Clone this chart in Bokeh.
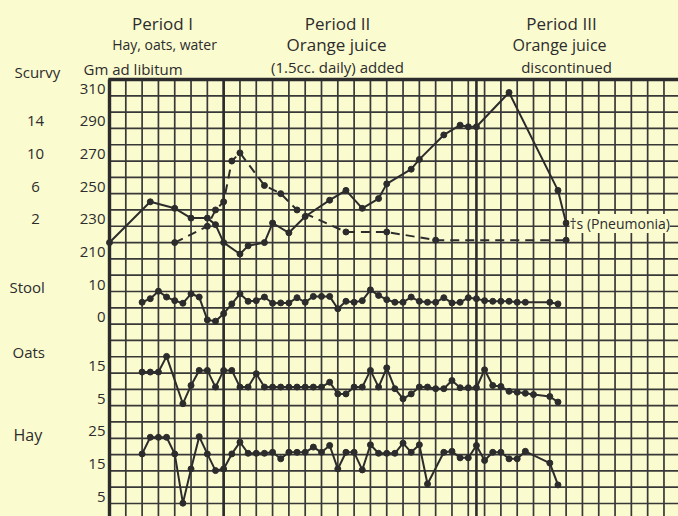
import numpy as np
from bokeh.plotting import figure
from bokeh.models import Range1d, Label, Grid
from bokeh.embed import file_html
from bokeh.resources import INLINE

# ---------------- data (day of experiment; one grid column = 2 days) ----------------
weight_day = [0, 5, 8, 10, 12, 13, 14, 16, 17, 19, 20, 22, 24, 27, 29, 31, 33, 34,
              37, 38, 41, 43, 44, 45, 49, 55, 56]
weight_gm = [220, 245, 241, 235, 235, 231, 220, 213, 218, 220, 232, 226, 236, 246, 252,
             241, 247, 256, 265, 271, 286, 292, 291, 291, 312, 252, 232]

scurvy_day = [8, 12, 13, 14, 15, 16, 19, 21, 23, 29, 34, 40, 56]
scurvy_score = [0, 2, 4, 5, 10, 11, 7, 6, 4, 1.3, 1.3, 0.3, 0.3]

stool_day = [4, 5, 6, 7, 8, 9, 10, 11, 12, 13, 14, 15, 16, 17, 18, 19, 20, 21, 22, 23,
             24, 25, 26, 27, 28, 29, 30, 31, 32, 33, 34, 35, 36, 37, 38, 39, 40, 41, 42,
             43, 44, 45, 46, 47, 48, 49, 50, 51, 54, 55]
stool_val = [6.7, 7.8, 10.1, 8.3, 7.2, 6.4, 9.3, 8.3, 1.3, 0.9, 3.2, 6.2, 9.3, 7.0, 7.2,
             8.3, 6.4, 6.5, 6.5, 8.1, 6.7, 8.5, 8.5, 8.5, 4.7, 7.0, 6.7, 7.2, 10.5, 8.8,
             7.5, 6.7, 6.7, 8.3, 7.0, 6.7, 6.7, 8.1, 6.5, 6.7, 8.1, 7.8, 7.2, 7.0, 7.0,
             7.0, 6.7, 6.7, 6.7, 6.2]

oats_day = [4, 5, 6, 7, 9, 10, 11, 12, 13, 14, 15, 16, 17, 18, 19, 20, 21, 22, 23, 24,
            25, 26, 27, 28, 29, 30, 31, 32, 33, 34, 35, 36, 37, 38, 39, 40, 41, 42, 43,
            44, 45, 46, 47, 48, 49, 50, 51, 52, 54, 55]
oats_val = [15.3, 15.3, 15.3, 20.1, 5.6, 11.2, 15.8, 15.8, 10.7, 15.8, 15.8, 10.7, 10.7,
            14.8, 10.7, 10.7, 10.7, 10.7, 10.7, 10.7, 10.7, 10.7, 12.2, 8.6, 8.6, 10.7,
            10.7, 15.8, 10.7, 16.6, 10.2, 7.1, 8.6, 10.7, 10.7, 10.2, 10.2, 12.7, 10.5,
            10.5, 10.5, 16.0, 11.2, 10.9, 9.4, 9.1, 8.8, 8.4, 7.8, 6.1]

hay_day = [4, 5, 6, 7, 8, 9, 10, 11, 12, 13, 14, 15, 16, 17, 18, 19, 20, 21, 22, 23, 24,
           25, 26, 27, 28, 29, 30, 31, 32, 33, 34, 35, 36, 37, 38, 39, 41, 42, 43, 44,
           45, 46, 47, 48, 49, 50, 51, 54, 55]
hay_val = [20.2, 25.3, 25.3, 25.3, 20.2, 5.1, 15.6, 25.5, 20.2, 15.1, 15.6, 20.2, 23.8,
           20.4, 20.4, 20.4, 20.7, 18.7, 20.7, 20.7, 20.7, 22.3, 20.7, 22.8, 15.6, 20.7,
           20.7, 15.3, 23.0, 20.4, 20.4, 20.4, 23.5, 20.7, 23.0, 11.0, 20.7, 21.0, 19.0,
           19.0, 22.8, 18.2, 20.7, 20.7, 18.7, 18.7, 21.0, 17.4, 10.7]

period_start_day = [14, 45]

weight_ticks = [310, 290, 270, 250, 230, 210]
scurvy_ticks = [14, 10, 6, 2]
stool_ticks = [10, 0]
oats_ticks = [15, 5]
hay_ticks = [25, 15, 5]

# ---------------- layout / style ----------------
PAPER = "#fbfbd0"
INK = "#2c2c2c"
GRIDC = "#383838"
FONT = "Open Sans"
LIFT = 7                  # screen px to raise text so its baseline sits on a line

W, H = 678, 516
GX, GY = 109, 79          # page pixel of the chart's top-left grid corner
ROW = 16.308              # px per grid square
W_TOP = 320               # weight at the top border line


def dx(X):
    return (X - GX) / (ROW / 2)


def wy(Y):
    return W_TOP - (Y - GY) * 10 / ROW


x0, x1 = dx(0), dx(W)
y0, y1 = wy(H), wy(0)


def rng(top, per_row):
    # a scale whose grid rows are aligned with the weight grid
    return Range1d(top - per_row * (W_TOP - y0) / 10, top + per_row * (y1 - W_TOP) / 10)


p = figure(width=W, height=H, output_backend="svg", toolbar_location=None, title=None,
           x_axis_location=None, y_axis_location=None,
           x_range=Range1d(x0, x1), y_range=Range1d(y0, y1),
           min_border_left=0, min_border_top=0, min_border_right=0, min_border_bottom=0,
           background_fill_color=PAPER, border_fill_color=PAPER, outline_line_color=None)
p.extra_y_ranges = {
    "scurvy": rng(20, 2),
    "stool": rng(75, 5),
    "oats": rng(105, 5),
    "hay": rng(135, 5),
}
p.center = [c for c in p.center if not isinstance(c, Grid)]

# squared paper
col_days = np.arange(2, x1, 2)
row_gm = np.arange(W_TOP - 10, y0, -10)
p.segment(x0=col_days, y0=[W_TOP] * len(col_days), x1=col_days, y1=[y0] * len(col_days),
          line_color=GRIDC, line_width=1.7)
p.segment(x0=[0] * len(row_gm), y0=row_gm, x1=[x1] * len(row_gm), y1=row_gm,
          line_color=GRIDC, line_width=1.7)
# heavy border and period dividers
p.segment(x0=[-0.15, 0], y0=[W_TOP, W_TOP], x1=[x1, 0], y1=[W_TOP, y0],
          line_color=INK, line_width=3.4)
p.segment(x0=period_start_day, y0=[W_TOP] * 2, x1=period_start_day, y1=[y0] * 2,
          line_color=INK, line_width=2.6)

# ---------------- series ----------------
p.line(weight_day, weight_gm, line_color=INK, line_width=2)
p.scatter(weight_day, weight_gm, size=6, color=INK)

p.line(scurvy_day, scurvy_score, y_range_name="scurvy", line_color=INK, line_width=2,
       line_dash="9 6")
p.scatter(scurvy_day, scurvy_score, y_range_name="scurvy", size=6, color=INK)

for xs, ys, rn in [(stool_day, stool_val, "stool"), (oats_day, oats_val, "oats"),
                   (hay_day, hay_val, "hay")]:
    p.line(xs, ys, y_range_name=rn, line_color=INK, line_width=2)
    p.scatter(xs, ys, y_range_name=rn, size=6, color=INK)


# ---------------- text ----------------
def label(text, X, Y, size, align="left", baseline="alphabetic", lift=LIFT, **kw):
    p.add_layout(Label(x=dx(X), y=wy(Y), y_offset=lift, text=text, text_font=FONT,
                       text_font_size=f"{size}px", text_color=INK,
                       text_align=align, text_baseline=baseline, **kw))


label("Period I", 162, 30, 17, "center")
label("Hay, oats, water", 164, 51, 14, "center")
label("Gm ad libitum", 83, 75, 15)
label("Scurvy", 14, 78, 15)
label("Period II", 337, 30, 17, "center")
label("Orange juice", 336, 51, 17, "center")
label("(1.5cc. daily) added", 337, 73, 15, "center")
label("Period III", 561, 30, 17, "center")
label("Orange juice", 559, 51, 16, "center")
label("discontinued", 566, 73, 15, "center")
label("Stool", 9, 293, 15)
label("Oats", 12, 358, 15)
label("Hay", 13, 441, 16)
label("†s (Pneumonia)", 569, 223, 14, "left", "middle", lift=0,
      background_fill_color=PAPER)

for rn, ticks, X, align in [("default", weight_ticks, 105, "right"),
                            ("scurvy", scurvy_ticks, 35, "center"),
                            ("stool", stool_ticks, 105, "right"),
                            ("oats", oats_ticks, 105, "right"),
                            ("hay", hay_ticks, 105, "right")]:
    for v in ticks:
        p.add_layout(Label(x=dx(X), y=v, y_range_name=rn, y_offset=LIFT, text=str(v),
                           text_font=FONT, text_font_size="15px", text_color=INK,
                           text_align=align, text_baseline="alphabetic"))

html = file_html(p, INLINE, title="Scurvy chart")
html = html.replace("</head>", f"<style>body{{background:{PAPER};}}</style></head>", 1)
open("out.html", "w").write(html)
